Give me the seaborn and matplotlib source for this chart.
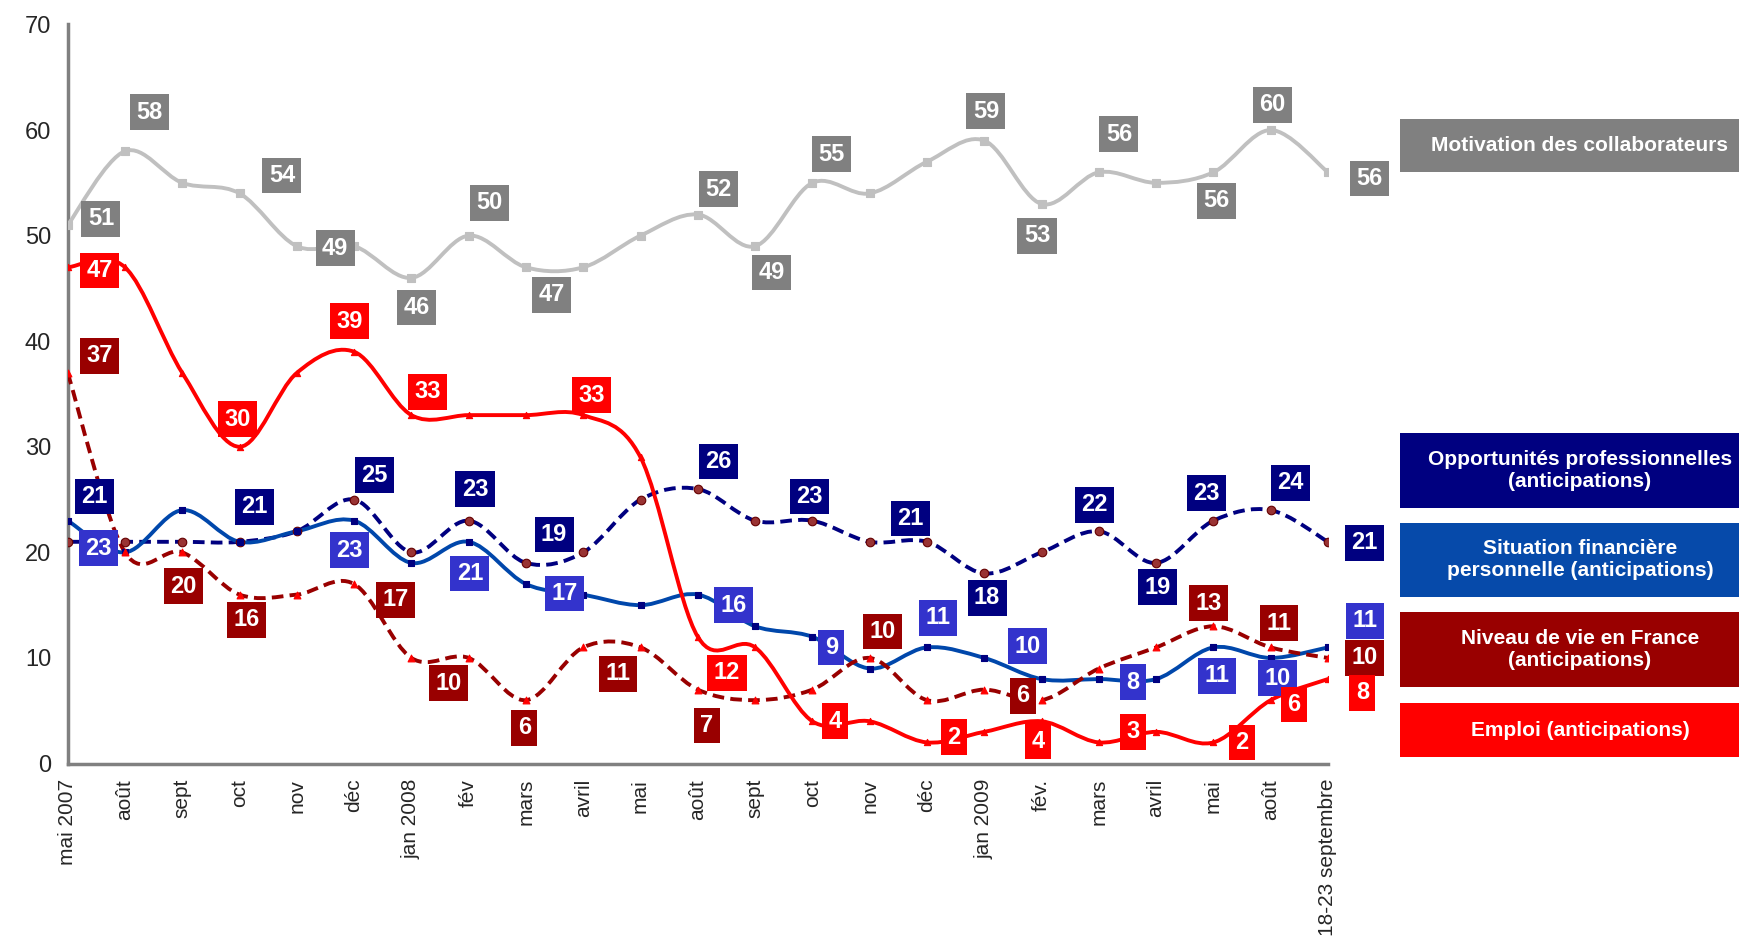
import numpy as np
import pandas as pd
import matplotlib
matplotlib.use('Agg')
import matplotlib.pyplot as plt
from matplotlib.path import Path
from matplotlib.patches import PathPatch, Rectangle
import seaborn as sns

months = ['mai 2007', 'août', 'sept', 'oct', 'nov', 'déc', 'jan 2008', 'fév', 'mars',
          'avril', 'mai', 'août', 'sept', 'oct', 'nov', 'déc', 'jan 2009', 'fév.',
          'mars', 'avril', 'mai', 'août', '18-23 septembre']

motivation = [51, 58, 55, 54, 49, 49, 46, 50, 47, 47, 50, 52, 49, 55, 54, 57, 59, 53, 56, 55, 56, 60, 56]
opportunites = [21, 21, 21, 21, 22, 25, 20, 23, 19, 20, 25, 26, 23, 23, 21, 21, 18, 20, 22, 19, 23, 24, 21]
situation = [23, 20, 24, 21, 22, 23, 19, 21, 17, 16, 15, 16, 13, 12, 9, 11, 10, 8, 8, 8, 11, 10, 11]
niveau = [37, 20, 20, 16, 16, 17, 10, 10, 6, 11, 11, 7, 6, 7, 10, 6, 7, 6, 9, 11, 13, 11, 10]
emploi = [47, 47, 37, 30, 37, 39, 33, 33, 33, 33, 29, 12, 11, 4, 4, 2, 3, 4, 2, 3, 2, 6, 8]

# where each value box sits: (point index, x, y) in data units
lab_motivation = [(0, 0.58, 51.6), (1, 1.43, 61.7), (3, 3.74, 55.7), (4, 4.67, 48.8), (6, 6.09, 43.2),
                  (7, 7.36, 53.1), (8, 8.45, 44.4), (11, 11.36, 54.4), (12, 12.29, 46.5),
                  (13, 13.33, 57.7), (16, 16.03, 61.8), (17, 16.92, 50.0), (18, 18.35, 59.6),
                  (20, 20.06, 53.3), (21, 21.03, 62.4), (22, 22.73, 55.4)]
lab_emploi = [(0, 0.56, 46.7), (3, 2.97, 32.6), (5, 4.92, 41.9), (6, 6.28, 35.2), (9, 9.15, 34.9),
              (11, 11.51, 8.6), (13, 13.39, 4.0), (15, 15.47, 2.5), (17, 16.94, 2.1), (19, 18.6, 3.0),
              (20, 20.5, 2.0), (21, 21.4, 5.6), (22, 22.6, 6.7)]
lab_niveau = [(0, 0.56, 38.6), (2, 2.02, 16.8), (3, 3.12, 13.6), (5, 5.72, 15.5), (6, 6.65, 7.6),
              (8, 7.97, 3.4), (9, 9.61, 8.5), (11, 11.16, 3.6), (14, 14.22, 12.5), (17, 16.67, 6.4),
              (20, 19.92, 15.2), (21, 21.14, 13.3), (22, 22.64, 10.0)]
lab_opport = [(0, 0.47, 25.3), (3, 3.26, 24.3), (5, 5.35, 27.3), (7, 7.11, 26.0), (8, 8.49, 21.7),
              (11, 11.36, 28.6), (13, 12.95, 25.3), (15, 14.71, 23.2), (16, 16.05, 15.7),
              (18, 17.93, 24.5), (19, 19.03, 16.7), (20, 19.88, 25.6), (21, 21.34, 26.6),
              (22, 22.64, 20.9)]
lab_situation = [(0, 0.54, 20.4), (5, 4.92, 20.2), (7, 7.02, 18.0), (8, 8.68, 16.1), (11, 11.63, 15.0),
                 (14, 13.33, 11.0), (15, 15.19, 13.8), (16, 16.76, 11.1), (19, 18.6, 7.7),
                 (20, 20.06, 8.3), (21, 21.12, 8.1), (22, 22.64, 13.5)]

sns.set_style('white')
plt.rcParams['font.family'] = ['Liberation Sans', 'DejaVu Sans']
narrow = ['Liberation Sans Narrow', 'Liberation Sans', 'DejaVu Sans']

fig = plt.figure(figsize=(17.4, 9.41), dpi=100)
ax = fig.add_axes([0.0389, 0.1886, 0.7243, 0.7854])


def smooth_path(y):
    # catmull-rom through the points, drawn as cubic beziers
    x = np.arange(len(y), dtype=float)
    y = np.asarray(y, dtype=float)
    pts = np.column_stack([x, y])
    ext = np.vstack([pts[0], pts, pts[-1]])
    verts = [pts[0]]
    codes = [Path.MOVETO]
    for i in range(len(pts) - 1):
        p0, p1, p2, p3 = ext[i], ext[i + 1], ext[i + 2], ext[i + 3]
        c1 = p1 + (p2 - p0) / 6.0
        c2 = p2 - (p3 - p1) / 6.0
        verts += [c1, c2, p2]
        codes += [Path.CURVE4] * 3
    return Path(verts, codes)


series = [
    ('motivation', motivation, '#C0C0C0', '-', 's', '#C0C0C0', '#C0C0C0', 34),
    ('opport', opportunites, '#000080', (0, (3, 1.6)), 'o', '#993333', '#660000', 38),
    ('situation', situation, '#0047AB', '-', 's', '#000080', '#000080', 16),
    ('niveau', niveau, '#990000', (0, (3, 1.6)), '^', '#FF0000', '#FF0000', 24),
    ('emploi', emploi, '#FF0000', '-', '^', '#FF0000', '#FF0000', 20),
]

for name, vals, col, ls, mk, mfc, mec, ms in series:
    patch = PathPatch(smooth_path(vals), fill=False, edgecolor=col, lw=2.8, linestyle=ls,
                      zorder=3, capstyle='butt')
    ax.add_patch(patch)
    df = pd.DataFrame({'x': np.arange(len(vals)), 'y': vals})
    sns.scatterplot(data=df, x='x', y='y', marker=mk, s=ms, color=mfc, edgecolor=mec,
                    linewidth=0.8, ax=ax, zorder=4, legend=False)

label_sets = [
    (motivation, lab_motivation, '#808080'),
    (opportunites, lab_opport, '#000080'),
    (situation, lab_situation, '#3333CC'),
    (niveau, lab_niveau, '#990000'),
    (emploi, lab_emploi, '#FF0000'),
]
for vals, labs, col in label_sets:
    for i, lx, ly in labs:
        ax.text(lx, ly, str(vals[i]), ha='center', va='center', color='white',
                fontsize=17, fontweight='bold', family=narrow, zorder=6, clip_on=False,
                bbox=dict(boxstyle='square,pad=0.27', fc=col, ec='none'))

ax.set_xlim(0, len(months) - 1)
ax.set_ylim(0, 70)
ax.set_xticks(range(len(months)))
ax.set_xticklabels(months, rotation=90, fontsize=15, va='top', ha='center')
ax.set_yticks(range(0, 71, 10))
ax.tick_params(axis='y', labelsize=17, direction='out', length=6, color='#808080', width=1.5, pad=6)
for t in ax.get_yticklabels():
    t.set_family(narrow)
ax.tick_params(axis='x', direction='out', length=5, color='#808080', width=1.5, pad=6)
ax.set_xlabel('')
ax.set_ylabel('')
for s in ['top', 'right']:
    ax.spines[s].set_visible(False)
for s in ['left', 'bottom']:
    ax.spines[s].set_color('#808080')
    ax.spines[s].set_linewidth(2.5)

# legend boxes on the right
legend_items = [
    ('Motivation des collaborateurs', '#808080', 119, 172),
    ('Opportunités professionnelles\n(anticipations)', '#000080', 433, 508),
    ('Situation financière\npersonnelle (anticipations)', '#064AAA', 523, 597),
    ('Niveau de vie en France\n(anticipations)', '#990000', 612, 687),
    ('Emploi (anticipations)', '#FF0000', 703, 757),
]
W, H = 1740.0, 941.0
x0 = 1400
for txt, col, top, bot in legend_items:
    fig.patches.append(Rectangle((x0 / W, 1 - bot / H), (W - x0) / W, (bot - top) / H,
                                 transform=fig.transFigure, fc=col, ec='none', zorder=1))
    fig.text((x0 + 180) / W, 1 - (top + bot) / 2 / H, txt, ha='center', va='center',
             color='white', fontsize=15, fontweight='bold', linespacing=1.2)

fig.savefig('out.png', dpi=100)
